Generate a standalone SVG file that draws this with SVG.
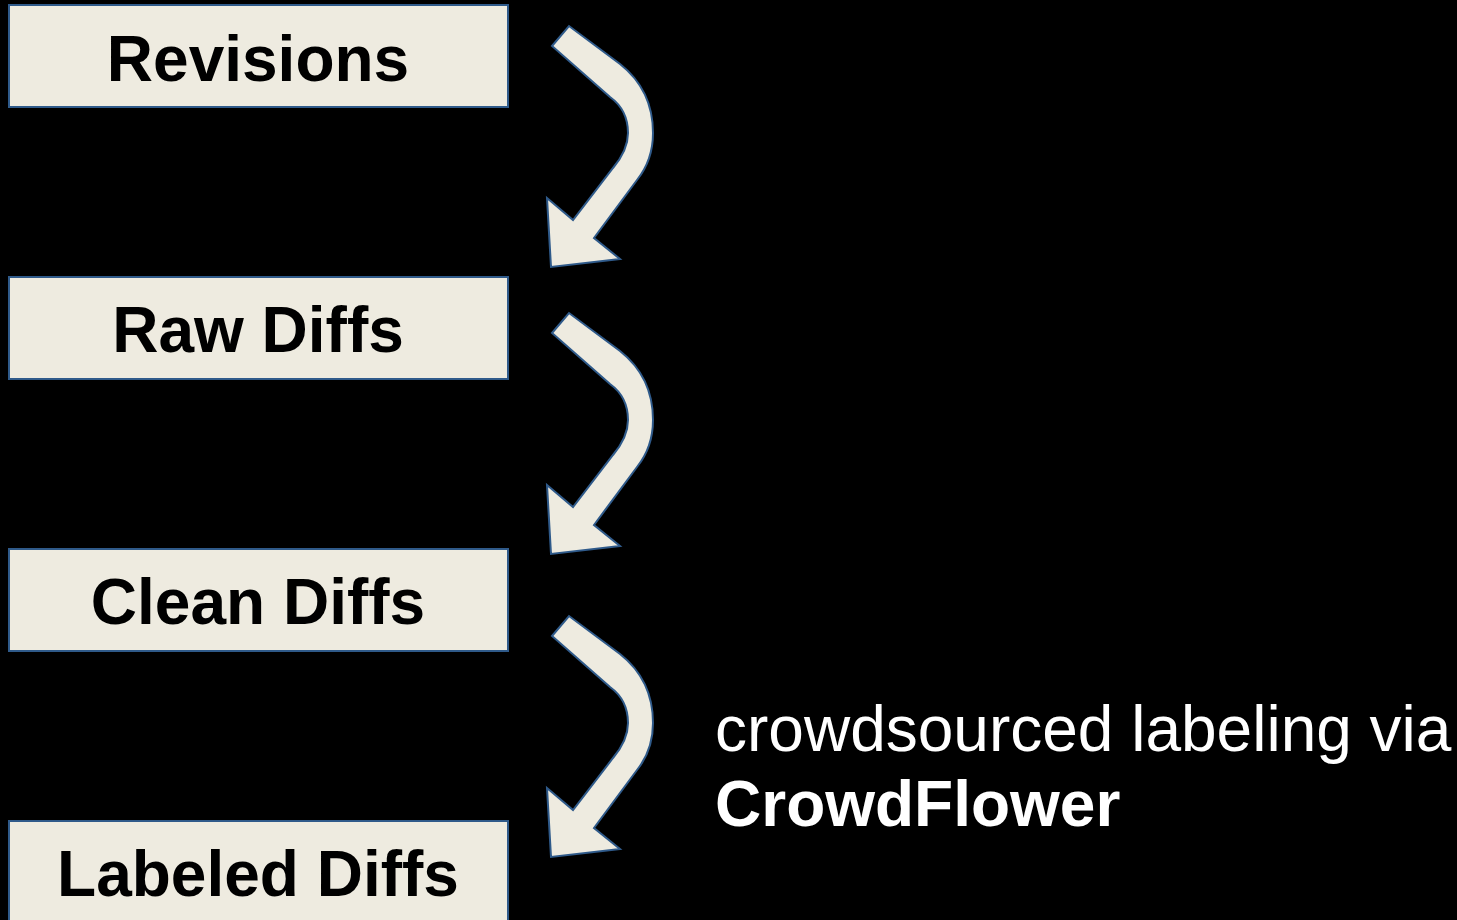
<svg xmlns="http://www.w3.org/2000/svg" width="1457" height="920" viewBox="0 0 1457 920">
<defs>
<style>
.box{fill:#EEEBE0;stroke:#2F5A8A;stroke-width:2}
.lbl{font-family:"Liberation Sans",Arial,sans-serif;font-weight:bold;font-size:64px;fill:#000;text-anchor:middle}
.arrow{fill:#EEEBE0;stroke:#2F5A8A;stroke-width:2;stroke-linejoin:miter}
.note{font-family:"Liberation Sans",Arial,sans-serif;font-size:64px;fill:#fff}
</style>
<path id="curved" d="M 552,46 L 569,26 L 620,64 Q 653,90 653,133 Q 653,160 637,180 L 594,238 L 620,259 L 551,267 L 547,198 L 573,220 L 613,168 Q 628,150 628,133 Q 628,110 610,97 Z"/>
</defs>
<rect width="1457" height="920" fill="#000"/>
<g id="revisions">
<rect class="box" x="9" y="5" width="499" height="102"/>
<text class="lbl" x="258" y="81">Revisions</text>
</g>
<g id="raw-diffs">
<rect class="box" x="9" y="277" width="499" height="102"/>
<text class="lbl" x="258" y="352">Raw Diffs</text>
</g>
<g id="clean-diffs">
<rect class="box" x="9" y="549" width="499" height="102"/>
<text class="lbl" x="258" y="624">Clean Diffs</text>
</g>
<g id="labeled-diffs">
<rect class="box" x="9" y="821" width="499" height="102"/>
<text class="lbl" x="258" y="896">Labeled Diffs</text>
</g>
<g id="connectors">
<use href="#curved" class="arrow"/>
<use href="#curved" class="arrow" transform="translate(0,287)"/>
<use href="#curved" class="arrow" transform="translate(0,590)"/>
</g>
<g id="note">
<text class="note" x="715" y="751">crowdsourced labeling via</text>
<text class="note" x="715" y="826" font-weight="bold">CrowdFlower</text>
</g>
</svg>
